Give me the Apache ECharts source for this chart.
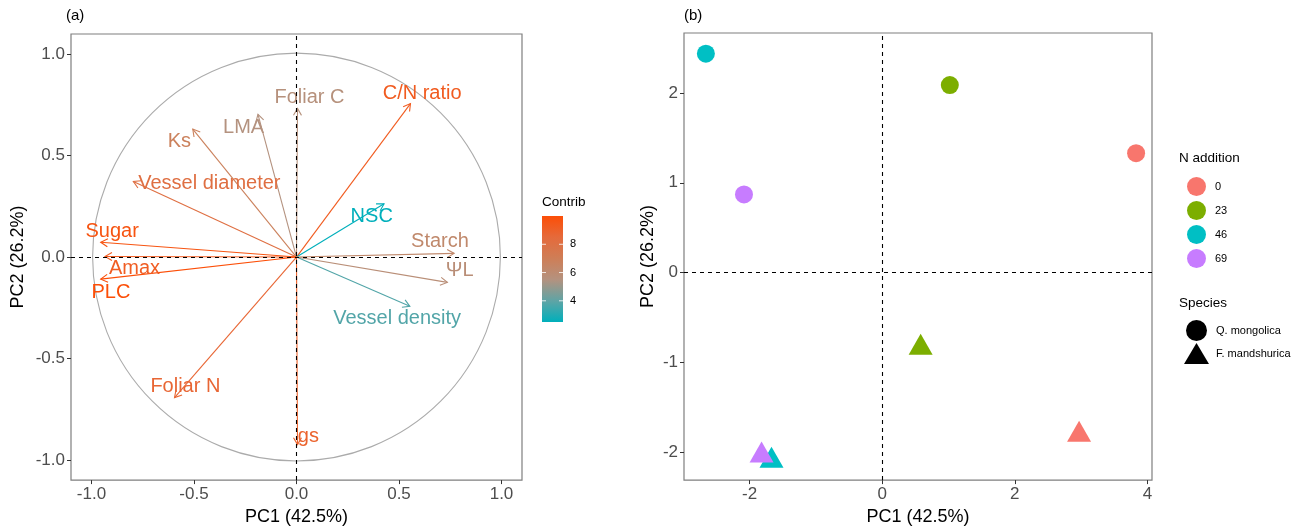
<!DOCTYPE html>
<html>
<head>
<meta charset="utf-8">
<title>PCA biplot</title>
<script src="https://cdn.jsdelivr.net/npm/echarts@6/dist/echarts.min.js"></script>
<style>
  html, body { margin: 0; padding: 0; background: #fff; }
  #chart { width: 1296px; height: 531px; }
</style>
</head>
<body>
<div id="chart"></div>
<script>
// ---- (a) variable loadings ----
const varNames = ['C/N ratio', 'Foliar C', 'LMA', 'Ks', 'Vessel diameter', 'NSC', 'Sugar',
  'Starch', 'Amax', 'PLC', 'ΨL', 'Vessel density', 'Foliar N', 'gs'];
const varPC1 = [0.556, 0.005, -0.188, -0.506, -0.796, 0.427, -0.955, 0.769, -0.934, -0.955, 0.736, 0.553, -0.595, 0.005];
const varPC2 = [0.757, 0.733, 0.704, 0.631, 0.373, 0.263, 0.073, 0.018, 0.003, -0.109, -0.125, -0.243, -0.693, -0.925];
const varContrib = [9.3, 5.6, 5.5, 6.8, 8.1, 2.5, 9.7, 6.2, 9.2, 10.0, 5.8, 3.8, 8.7, 8.9];
// label anchors (data units), placed beside the arrow tips
const labelPC1 = [0.613, 0.063, -0.258, -0.571, -0.425, 0.367, -0.899, 0.700, -0.790, -0.905, 0.796, 0.491, -0.542, 0.058];
const labelPC2 = [0.809, 0.787, 0.641, 0.568, 0.365, 0.200, 0.125, 0.075, -0.055, -0.174, -0.068, -0.303, -0.636, -0.887];
const loadTicks = [-1, -0.5, 0, 0.5, 1];
const contribRange = [2.5, 10];
const contribTicks = [4, 6, 8];

// ---- (b) individual scores ----
const nLevels = ['0', '23', '46', '69'];
const qPC1 = [3.83, 1.02, -2.66, -2.085];   // Q. mongolica
const qPC2 = [1.33, 2.09, 2.44, 0.87];
const fPC1 = [2.97, 0.58, -1.67, -1.82];    // F. mandshurica
const fPC2 = [-1.81, -0.84, -2.10, -2.04];
const speciesNames = ['Q. mongolica', 'F. mandshurica'];
const scoreXTicks = [-2, 0, 2, 4];
const scoreYTicks = [-2, -1, 0, 1, 2];

const levelColors = ['#F8766D', '#7CAE00', '#00BFC4', '#C77CFF'];
const contribColors = ['#00AFBB', '#5FA4A5', '#B4927F', '#CE7E57', '#E56A3B', '#FC4E07'];
const FONT = '"Liberation Sans", Arial, sans-serif';

const chart = echarts.init(document.getElementById('chart'), null, { renderer: 'canvas' });

function fmt1(v) { return (Math.round(v * 10) / 10).toFixed(1); }

function valueAxis(gridIndex, min, max, ticks, formatter, extra) {
  return Object.assign({
    type: 'value', gridIndex, min, max,
    axisLine: { show: false, onZero: false },
    splitLine: { show: false },
    axisTick: { show: true, customValues: ticks, length: 4, lineStyle: { color: '#333', width: 1 } },
    axisLabel: { customValues: ticks, formatter, color: '#4D4D4D', fontSize: 17, fontFamily: FONT, margin: 6 },
    nameLocation: 'middle',
    nameTextStyle: { color: '#000', fontSize: 18, fontFamily: FONT }
  }, extra || {});
}

const dashedZero = {
  silent: true, symbol: 'none', label: { show: false },
  lineStyle: { color: '#000', type: [4, 4], width: 1.1 },
  emphasis: { disabled: true },
  data: [{ xAxis: 0 }, { yAxis: 0 }]
};

const arrowData = varNames.map((n, i) => [varPC1[i], varPC2[i], varContrib[i], labelPC1[i], labelPC2[i]]);

const series = [
  // unit circle of correlations
  {
    type: 'custom', xAxisIndex: 0, yAxisIndex: 0, z: 1, silent: true,
    data: [[0, 0]],
    renderItem(params, api) {
      const c = api.coord([0, 0]);
      const r = api.size([1, 1]);
      return { type: 'circle', shape: { cx: c[0], cy: c[1], r: (r[0] + r[1]) / 2 },
        style: { fill: null, stroke: '#ABABAB', lineWidth: 1.1 } };
    }
  },
  // loading arrows with labels
  {
    type: 'custom', xAxisIndex: 0, yAxisIndex: 0, z: 2, silent: true,
    data: arrowData,
    renderItem(params, api) {
      const o = api.coord([0, 0]);
      const t = api.coord([api.value(0), api.value(1)]);
      const l = api.coord([api.value(3), api.value(4)]);
      const color = api.visual('color');
      const ang = Math.atan2(t[1] - o[1], t[0] - o[0]);
      const len = 8, a = Math.PI / 6;
      const p1 = [t[0] - len * Math.cos(ang - a), t[1] - len * Math.sin(ang - a)];
      const p2 = [t[0] - len * Math.cos(ang + a), t[1] - len * Math.sin(ang + a)];
      return {
        type: 'group',
        children: [
          { type: 'line', shape: { x1: o[0], y1: o[1], x2: t[0], y2: t[1] }, style: { stroke: color, lineWidth: 1.1 } },
          { type: 'polyline', shape: { points: [p1, t, p2] }, style: { stroke: color, fill: null, lineWidth: 1.1 } },
          { type: 'text', x: l[0], y: l[1], z2: 5,
            style: { text: varNames[params.dataIndex], fill: color, font: '20px ' + FONT, align: 'center', verticalAlign: 'middle' } }
        ]
      };
    }
  },
  // reference lines through the origin, panel (a)
  { type: 'scatter', name: 'zeroA', xAxisIndex: 0, yAxisIndex: 0, z: 6, data: [], markLine: dashedZero },
  // reference lines through the origin, panel (b)
  { type: 'scatter', name: 'zeroB', xAxisIndex: 1, yAxisIndex: 1, z: 1, data: [], markLine: dashedZero },
  // colour bar for contributions
  {
    type: 'custom', xAxisIndex: 2, yAxisIndex: 2, silent: true,
    data: [[0, 0]],
    renderItem(params, api) {
      const p0 = api.coord([0, contribRange[1]]);
      const p1 = api.coord([1, contribRange[0]]);
      const stops = contribColors.map((c, i) => ({ offset: i / (contribColors.length - 1), color: c }));
      const children = [{
        type: 'rect',
        shape: { x: p0[0], y: p0[1], width: p1[0] - p0[0], height: p1[1] - p0[1] },
        style: { fill: new echarts.graphic.LinearGradient(0, 1, 0, 0, stops) }
      }];
      contribTicks.forEach(v => {
        const y = api.coord([0, v])[1];
        children.push({ type: 'line', shape: { x1: p0[0], y1: y, x2: p0[0] + 4, y2: y }, style: { stroke: 'rgba(255,255,255,0.8)', lineWidth: 1 } });
        children.push({ type: 'line', shape: { x1: p1[0] - 4, y1: y, x2: p1[0], y2: y }, style: { stroke: 'rgba(255,255,255,0.8)', lineWidth: 1 } });
      });
      return { type: 'group', children };
    }
  }
];

const arrowSeriesIndex = 1;

// score points: circles for Q. mongolica, triangles for F. mandshurica
nLevels.forEach((lv, i) => {
  series.push({
    type: 'scatter', name: lv, xAxisIndex: 1, yAxisIndex: 1, z: 3,
    symbol: 'circle', symbolSize: 18,
    itemStyle: { color: levelColors[i], opacity: 1 },
    data: [[qPC1[i], qPC2[i]]]
  });
});
nLevels.forEach((lv, i) => {
  series.push({
    type: 'scatter', name: lv, xAxisIndex: 1, yAxisIndex: 1, z: 3,
    symbol: 'triangle', symbolSize: [24, 21], symbolOffset: [0, -3.5],
    itemStyle: { color: levelColors[i], opacity: 1 },
    data: [[fPC1[i], fPC2[i]]]
  });
});
// entries for the species key
speciesNames.forEach((s, i) => {
  series.push({
    type: 'scatter', name: s, xAxisIndex: 1, yAxisIndex: 1,
    symbol: i === 0 ? 'circle' : 'triangle',
    itemStyle: { color: '#000', opacity: 1 }, data: []
  });
});

const option = {
  animation: false,
  backgroundColor: '#fff',
  textStyle: { fontFamily: FONT },
  grid: [
    { left: 71, top: 34, width: 451, height: 451, show: true, borderColor: '#7F7F7F', borderWidth: 1.2, backgroundColor: 'transparent' },
    { left: 684, top: 33, width: 468, height: 452, show: true, borderColor: '#7F7F7F', borderWidth: 1.2, backgroundColor: 'transparent' },
    { left: 542, top: 216, width: 21, height: 106 }
  ],
  xAxis: [
    valueAxis(0, -1.1, 1.1, loadTicks, fmt1, { name: 'PC1 (42.5%)', nameGap: 26 }),
    valueAxis(1, -2.99, 4.07, scoreXTicks, v => String(v), { name: 'PC1 (42.5%)', nameGap: 26 }),
    { type: 'value', gridIndex: 2, min: 0, max: 1, show: false }
  ],
  yAxis: [
    valueAxis(0, -1.1, 1.1, loadTicks, fmt1, { name: 'PC2 (26.2%)', nameGap: 44 }),
    valueAxis(1, -2.315, 2.67, scoreYTicks, v => String(v), { name: 'PC2 (26.2%)', nameGap: 27 }),
    {
      type: 'value', gridIndex: 2, min: contribRange[0], max: contribRange[1], position: 'right',
      axisLine: { show: false, onZero: false }, splitLine: { show: false },
      axisTick: { show: false },
      axisLabel: { customValues: contribTicks, color: '#000', fontSize: 11, fontFamily: FONT, margin: 7 }
    }
  ],
  visualMap: [{
    type: 'continuous', show: false, seriesIndex: arrowSeriesIndex, dimension: 2,
    min: contribRange[0], max: contribRange[1],
    inRange: { color: contribColors }
  }],
  legend: [
    {
      orient: 'vertical', left: 1182, top: 172, itemWidth: 19, itemHeight: 19, itemGap: 5,
      selectedMode: false,
      textStyle: { fontSize: 11, color: '#000', padding: [0, 0, 0, 4] },
      data: nLevels.map((n, i) => ({ name: n, icon: 'circle', itemStyle: { color: levelColors[i], opacity: 1 } }))
    },
    {
      orient: 'vertical', left: 1179, top: 315, itemWidth: 25, itemHeight: 21, itemGap: 2,
      selectedMode: false,
      textStyle: { fontSize: 11, color: '#000', padding: [0, 0, 0, 2] },
      data: [
        { name: speciesNames[0], icon: 'circle', itemStyle: { color: '#000', opacity: 1 } },
        { name: speciesNames[1], icon: 'triangle', itemStyle: { color: '#000', opacity: 1 } }
      ]
    }
  ],
  graphic: [
    { type: 'text', left: 66, top: 8, style: { text: '(a)', font: '15px ' + FONT, fill: '#000' } },
    { type: 'text', left: 684, top: 8, style: { text: '(b)', font: '15px ' + FONT, fill: '#000' } },
    { type: 'text', left: 542, top: 195, style: { text: 'Contrib', font: '13.5px ' + FONT, fill: '#000' } },
    { type: 'text', left: 1179, top: 151, style: { text: 'N addition', font: '13.5px ' + FONT, fill: '#000' } },
    { type: 'text', left: 1179, top: 296, style: { text: 'Species', font: '13.5px ' + FONT, fill: '#000' } }
  ],
  series
};

chart.setOption(option);
</script>
</body>
</html>
